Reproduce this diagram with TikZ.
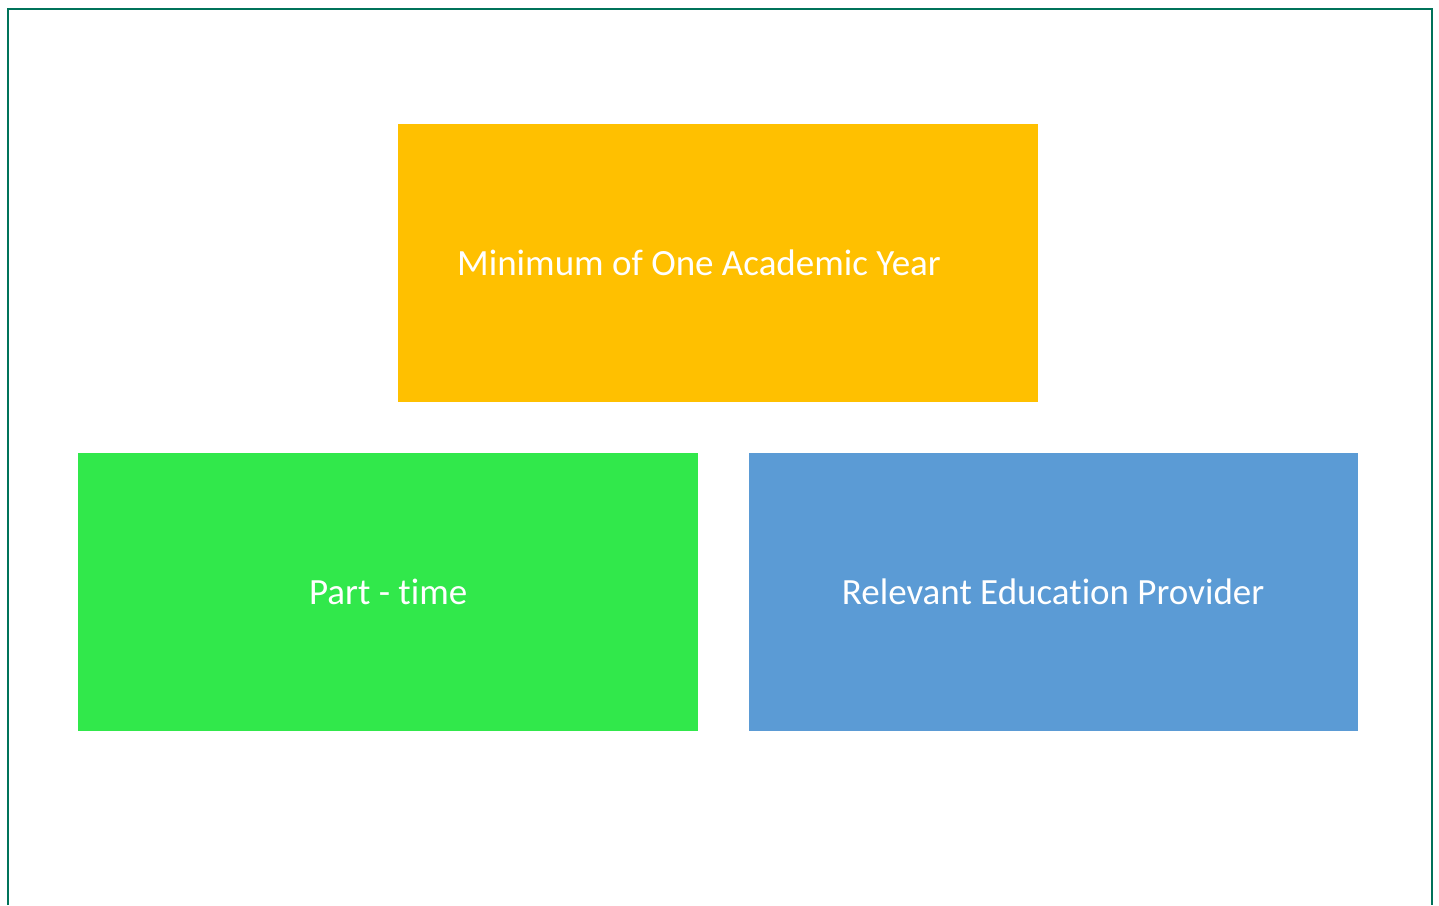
\documentclass[tikz,border=0pt]{standalone}
\usepackage{fontspec}
\setmainfont{Carlito}[Ligatures=NoCommon]
\usetikzlibrary{positioning}
\definecolor{frameGreen}{HTML}{00735A}
\definecolor{yearGold}{HTML}{FFC000}
\definecolor{timeGreen}{HTML}{31E84B}
\definecolor{providerBlue}{HTML}{5B9BD5}
\tikzset{
box/.style={
  rectangle, inner sep=0pt, text=white,
  minimum height=278pt,
  font=\fontsize{37}{44}\selectfont
},
}
\begin{document}
\begin{tikzpicture}[x=1pt,y=-1pt]
    \useasboundingbox (0,0) rectangle (1439,905);
    \fill[white] (0,0) rectangle (1439,905);
    \draw[frameGreen, line width=2pt] (8,905) -- (8,9) -- (1432,9) -- (1432,905);
    \node (year) [box, fill=yearGold, anchor=north west, inner xsep=59pt, text width=522pt, align=flush left] at (398,124) {Minimum of One Academic Year};
    \node (parttime) [box, fill=timeGreen, anchor=north west, minimum width=620pt] at (78,453) {Part - time};
    \node (provider) [box, fill=providerBlue, minimum width=609pt, right=50pt of parttime] {Relevant Education Provider};
\end{tikzpicture}
\end{document}
